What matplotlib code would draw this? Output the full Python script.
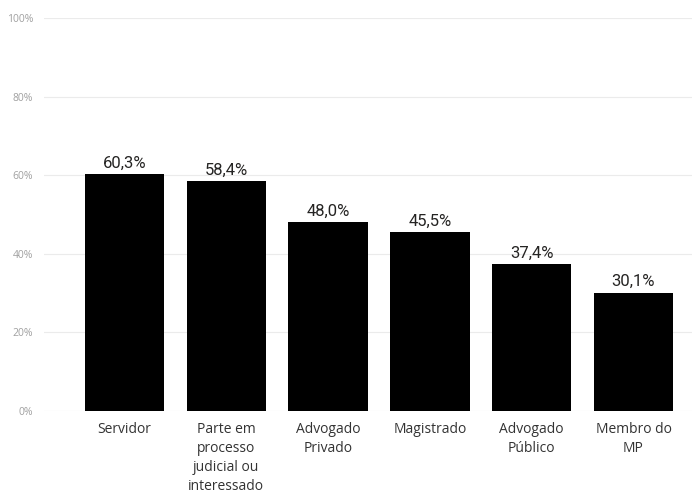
import matplotlib
matplotlib.use("Agg")
import matplotlib.pyplot as plt
import numpy as np

categories = ["Servidor", "Parte em\nprocesso\njudicial ou\ninteressado", "Advogado\nPrivado",
              "Magistrado", "Advogado\nPúblico", "Membro do\nMP"]
values = [60.3, 58.4, 48.0, 45.5, 37.4, 30.1]
yticks = [0, 20, 40, 60, 80, 100]

fig = plt.figure(figsize=(6.92, 4.97), dpi=100)
ax = fig.add_axes([0.0636, 0.173, 0.9364, 0.791])

x = np.arange(len(categories))
ax.bar(x, values, width=0.78, color="#000000", zorder=3)
for xi, v in zip(x, values):
    ax.text(xi, v + 0.9, f"{v:.1f}%".replace(".", ","), ha="center", va="bottom",
            fontsize=12, color="#252423", family="Roboto")

ax.set_xlim(-0.79, 5.575)
ax.set_ylim(0, 100)
ax.set_yticks(yticks)
ax.set_yticklabels([f"{t}%" for t in yticks], fontsize=7.5, color="#a0a0a0", family="Open Sans")
ax.set_xticks(x)
ax.set_xticklabels(categories, fontsize=10, color="#333333", family="Open Sans", linespacing=1.36,
                   va="top")
ax.tick_params(axis="both", length=0)
ax.tick_params(axis="x", pad=8)
ax.tick_params(axis="y", pad=8)
ax.grid(axis="y", color="#ebebeb", linewidth=0.8, zorder=0)
for s in ax.spines.values():
    s.set_visible(False)

fig.savefig("out.png", dpi=100, facecolor="white")
